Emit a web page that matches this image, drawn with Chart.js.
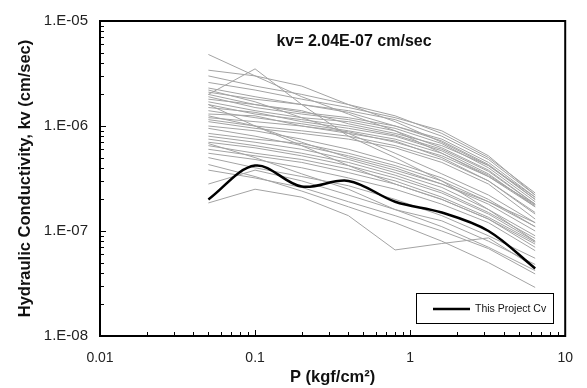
<!DOCTYPE html>
<html>
<head>
<meta charset="utf-8">
<script src="https://cdn.jsdelivr.net/npm/chart.js@4.4.1/dist/chart.umd.min.js"></script>
<style>
  html, body { margin: 0; padding: 0; background: #fff; }
  #c { display: block; }
</style>
</head>
<body>
<canvas id="c" width="587" height="388"></canvas>
<script>
// Loading pressures P (kgf/cm2)
const pressures = [0.05, 0.1, 0.2, 0.4, 0.8, 1.6, 3.2, 6.4];

// This project's kv curve (cm/sec)
const projectLabel = 'This Project Cv';
const projectKv = [2.0e-7, 4.2e-7, 2.65e-7, 3.0e-7, 1.9e-7, 1.5e-7, 1.0e-7, 4.4e-8];

// Reference curves (grey), kv in cm/sec at each pressure
const refKv = [
  [4.8e-6, 3.0e-6, 1.9e-6, 1.3e-6, 9.0e-7, 5.5e-7, 3.3e-7, 1.8e-7],
  [3.4e-6, 3.0e-6, 2.4e-6, 1.6e-6, 1.1e-6, 7.0e-7, 4.2e-7, 2.1e-7],
  [2.0e-6, 3.5e-6, 1.6e-6, 8.0e-7, 5.0e-7, 3.0e-7, 1.6e-7, 8.0e-8],
  [3.0e-6, 2.4e-6, 2.0e-6, 1.6e-6, 1.25e-6, 8.5e-7, 5.0e-7, 2.3e-7],
  [2.6e-6, 2.2e-6, 1.8e-6, 1.5e-6, 1.2e-6, 9.0e-7, 5.2e-7, 2.2e-7],
  [2.3e-6, 1.9e-6, 1.6e-6, 1.4e-6, 1.15e-6, 8.0e-7, 4.8e-7, 2.2e-7],
  [2.1e-6, 1.8e-6, 1.6e-6, 1.35e-6, 1.0e-6, 7.5e-7, 4.5e-7, 2.1e-7],
  [2.0e-6, 1.6e-6, 1.35e-6, 1.2e-6, 1.0e-6, 7.2e-7, 4.3e-7, 2.0e-7],
  [1.9e-6, 1.5e-6, 1.3e-6, 1.15e-6, 9.5e-7, 6.8e-7, 4.0e-7, 1.9e-7],
  [1.8e-6, 1.6e-6, 1.4e-6, 1.05e-6, 8.5e-7, 6.5e-7, 4.2e-7, 2.0e-7],
  [1.7e-6, 1.4e-6, 1.2e-6, 1.1e-6, 9.0e-7, 6.2e-7, 3.8e-7, 1.8e-7],
  [1.6e-6, 1.3e-6, 1.15e-6, 1.0e-6, 8.2e-7, 6.0e-7, 3.7e-7, 1.8e-7],
  [1.5e-6, 1.35e-6, 1.1e-6, 9.5e-7, 8.0e-7, 5.8e-7, 3.5e-7, 1.7e-7],
  [1.4e-6, 1.2e-6, 1.05e-6, 9.0e-7, 7.5e-7, 5.5e-7, 3.4e-7, 1.75e-7],
  [1.3e-6, 1.25e-6, 1.0e-6, 8.8e-7, 7.0e-7, 5.2e-7, 3.3e-7, 1.7e-7],
  [1.2e-6, 1.1e-6, 1.0e-6, 8.5e-7, 7.2e-7, 5.0e-7, 3.0e-7, 1.5e-7],
  [1.15e-6, 1.0e-6, 9.0e-7, 8.0e-7, 6.5e-7, 4.8e-7, 3.0e-7, 1.45e-7],
  [1.1e-6, 9.5e-7, 8.5e-7, 7.5e-7, 6.2e-7, 4.5e-7, 2.8e-7, 1.3e-7],
  [1.0e-6, 9.0e-7, 7.5e-7, 6.0e-7, 4.5e-7, 3.2e-7, 2.0e-7, 1.1e-7],
  [9.5e-7, 8.0e-7, 6.5e-7, 5.2e-7, 4.0e-7, 2.8e-7, 1.8e-7, 1.0e-7],
  [8.5e-7, 7.5e-7, 6.8e-7, 5.5e-7, 4.2e-7, 3.0e-7, 1.9e-7, 1.2e-7],
  [8.0e-7, 7.0e-7, 6.0e-7, 4.8e-7, 3.6e-7, 2.6e-7, 1.6e-7, 9.0e-8],
  [7.5e-7, 6.5e-7, 5.5e-7, 4.5e-7, 3.4e-7, 2.4e-7, 1.5e-7, 8.5e-8],
  [7.0e-7, 6.2e-7, 5.2e-7, 4.2e-7, 3.2e-7, 2.3e-7, 1.45e-7, 8.0e-8],
  [6.5e-7, 5.5e-7, 4.8e-7, 3.9e-7, 3.0e-7, 2.1e-7, 1.35e-7, 7.8e-8],
  [6.0e-7, 5.2e-7, 4.5e-7, 3.6e-7, 2.8e-7, 2.0e-7, 1.3e-7, 7.0e-8],
  [5.5e-7, 4.8e-7, 4.0e-7, 3.2e-7, 2.5e-7, 1.8e-7, 1.2e-7, 6.5e-8],
  [2.2e-6, 1.7e-6, 1.2e-6, 8.5e-7, 5.5e-7, 3.5e-7, 2.2e-7, 1.2e-7],
  [1.6e-6, 1.0e-6, 7.0e-7, 5.0e-7, 3.8e-7, 2.8e-7, 1.9e-7, 1.1e-7],
  [1.25e-6, 1.0e-6, 6.5e-7, 4.2e-7, 2.8e-7, 2.0e-7, 1.3e-7, 7.5e-8],
  [5.0e-7, 4.0e-7, 3.3e-7, 2.7e-7, 2.0e-7, 1.4e-7, 9.0e-8, 5.5e-8],
  [3.8e-7, 3.2e-7, 2.6e-7, 1.9e-7, 1.4e-7, 1.0e-7, 6.8e-8, 3.9e-8],
  [1.85e-7, 2.5e-7, 2.1e-7, 1.4e-7, 6.6e-8, 7.6e-8, 8.6e-8, 4.5e-8],
  [4.3e-7, 3.3e-7, 2.4e-7, 1.7e-7, 1.2e-7, 8.0e-8, 5.0e-8, 2.9e-8],
  [6.8e-7, 5.0e-7, 3.5e-7, 2.5e-7, 1.6e-7, 1.25e-7, 8.0e-8, 4.8e-8],
  [2.8e-7, 3.8e-7, 3.0e-7, 2.2e-7, 1.6e-7, 1.1e-7, 7.0e-8, 4.2e-8]
];

// Axis tick labels
const xTickValues = [0.01, 0.1, 1, 10];
const xTickLabels = ['0.01', '0.1', '1', '10'];
const yTickValues = [1e-8, 1e-7, 1e-6, 1e-5];
const yTickLabels = ['1.E-08', '1.E-07', '1.E-06', '1.E-05'];

const chartTitle = 'kv= 2.04E-07 cm/sec';
const xTitle = 'P (kgf/cm\u00B2)';
const yTitle = 'Hydraulic Conductivity, kv (cm/sec)';

const FONT = 'Arial, "Liberation Sans", sans-serif';

const toPts = arr => arr.map((v, i) => ({ x: pressures[i], y: v }));

const datasets = [{
  label: projectLabel,
  data: toPts(projectKv),
  borderColor: '#000',
  borderWidth: 2.5,
  pointRadius: 0,
  tension: 0.35,
  order: 0
}];
refKv.forEach((s, i) => datasets.push({
  label: 'ref' + (i + 1),
  data: toPts(s),
  borderColor: '#a3a3a3',
  borderWidth: 1,
  pointRadius: 0,
  tension: 0,
  order: 1
}));

const decor = {
  id: 'decor',
  afterDatasetsDraw(chart) {
    const { ctx, chartArea: a, scales } = chart;
    const xs = scales.x, ys = scales.y;
    ctx.save();
    // minor / major ticks (inward)
    ctx.strokeStyle = '#000';
    ctx.lineWidth = 1;
    ctx.beginPath();
    for (let d = -2; d < 1; d++) {
      for (let k = 1; k <= 9; k++) {
        const v = k * Math.pow(10, d);
        const px = Math.round(xs.getPixelForValue(v)) + 0.5;
        const len = k === 1 ? 6 : 4;
        ctx.moveTo(px, a.bottom);
        ctx.lineTo(px, a.bottom - len);
      }
    }
    for (let d = -8; d < -5; d++) {
      for (let k = 1; k <= 9; k++) {
        const v = k * Math.pow(10, d);
        const py = Math.round(ys.getPixelForValue(v)) + 0.5;
        const len = k === 1 ? 6 : 4;
        ctx.moveTo(a.left, py);
        ctx.lineTo(a.left + len, py);
      }
    }
    ctx.stroke();
    // frame
    ctx.lineWidth = 2;
    ctx.strokeRect(a.left, a.top, a.right - a.left, a.bottom - a.top);
    // title inside plot
    ctx.fillStyle = '#111';
    ctx.font = 'bold 16px ' + FONT;
    ctx.textAlign = 'center';
    ctx.textBaseline = 'middle';
    ctx.fillText(chartTitle, 354, 42);
    // legend
    const lx = 416, ly = 293, lw = 137, lh = 30;
    ctx.lineWidth = 1;
    ctx.strokeStyle = '#000';
    ctx.fillStyle = '#fff';
    ctx.fillRect(lx, ly, lw, lh);
    ctx.strokeRect(lx + 0.5, ly + 0.5, lw, lh);
    ctx.lineWidth = 2.5;
    ctx.beginPath();
    ctx.moveTo(lx + 17, ly + 16);
    ctx.lineTo(lx + 54, ly + 16);
    ctx.stroke();
    ctx.fillStyle = '#111';
    ctx.font = '10.5px ' + FONT;
    ctx.textAlign = 'left';
    ctx.fillText(projectLabel, lx + 59, ly + 16);
    ctx.restore();
  }
};

new Chart(document.getElementById('c'), {
  type: 'line',
  data: { datasets },
  options: {
    responsive: false,
    animation: false,
    devicePixelRatio: 1,
    layout: { padding: { top: 14, right: 16, left: 0, bottom: 0 } },
    plugins: { legend: { display: false }, tooltip: { enabled: false }, title: { display: false } },
    scales: {
      x: {
        type: 'logarithmic',
        min: 0.01, max: 10,
        border: { display: false },
        grid: { display: false, drawTicks: false },
        afterBuildTicks: s => { s.ticks = xTickValues.map(v => ({ value: v })); },
        afterFit: s => { s.height = 52; },
        ticks: {
          autoSkip: false, maxRotation: 0, padding: 14,
          color: '#222',
          font: { family: FONT, size: 14 },
          callback: (v) => { const i = xTickValues.indexOf(v); return i >= 0 ? xTickLabels[i] : ''; }
        },
        title: { display: true, text: xTitle, color: '#111', font: { family: FONT, size: 16.5, weight: 'bold' }, padding: { top: 0, bottom: 1 } }
      },
      y: {
        type: 'logarithmic',
        min: 1e-8, max: 1e-5,
        border: { display: false },
        grid: { display: false, drawTicks: false },
        afterBuildTicks: s => { s.ticks = yTickValues.map(v => ({ value: v })); },
        afterFit: s => { s.width = 100; },
        ticks: {
          autoSkip: false, padding: 12,
          color: '#222',
          font: { family: FONT, size: 15 },
          callback: (v) => { const i = yTickValues.findIndex(t => Math.abs(t - v) / t < 1e-6); return i >= 0 ? yTickLabels[i] : ''; }
        },
        title: { display: true, text: yTitle, color: '#111', font: { family: FONT, size: 16.5, weight: 'bold' }, padding: { top: 16, bottom: 0 } }
      }
    }
  },
  plugins: [decor]
});
</script>
</body>
</html>
